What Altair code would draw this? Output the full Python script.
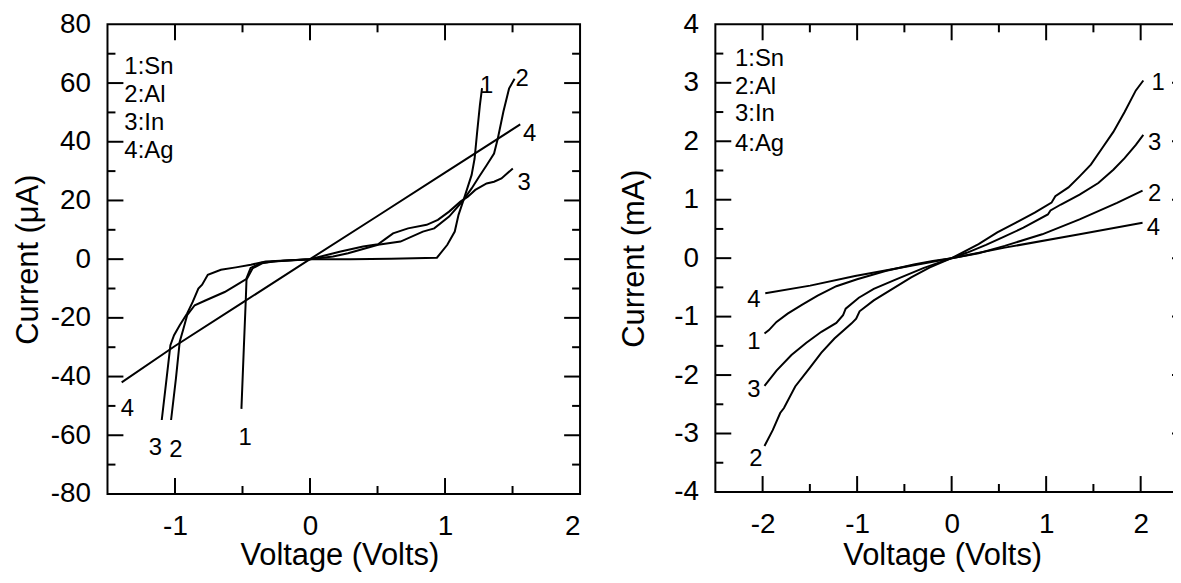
import altair as alt
import pandas as pd

# ---------------- Left panel: current in microamps ----------------
L_SN_V = [-0.508, -0.49, -0.475, -0.47, -0.44, -0.36, -0.2, 0.0, 0.3, 0.6, 0.94, 1.017, 1.072, 1.10, 1.141, 1.197, 1.219, 1.238, 1.258, 1.274]
L_SN_I = [-51.0, -30.0, -13.0, -6.5, -3.0, -1.2, -0.5, 0.0, 0.0, 0.1, 0.5, 4.9, 9.4, 15.1, 20.7, 28.7, 34.3, 43.4, 52.4, 58.3]

L_AL_V = [-1.029, -0.993, -0.965, -0.937, -0.910, -0.854, -0.771, -0.632, -0.549, -0.466, -0.425, -0.355, -0.272, 0.0, 0.171, 0.282, 0.504, 0.670, 0.836, 0.920, 1.03, 1.127, 1.197, 1.252, 1.308, 1.363, 1.391, 1.432, 1.474, 1.515]
L_AL_I = [-54.8, -40.6, -28.1, -23.6, -19.1, -15.7, -14.0, -11.2, -8.9, -6.6, -3.1, -1.4, -0.8, 0.0, 0.9, 2.0, 4.9, 6.0, 9.4, 10.5, 14.5, 19.6, 24.1, 28.1, 32.0, 36.0, 41.1, 50.2, 58.1, 61.5]

L_IN_V = [-1.098, -1.068, -1.034, -1.007, -0.965, -0.910, -0.868, -0.827, -0.799, -0.757, -0.660, -0.549, -0.438, -0.328, 0.0, 0.227, 0.393, 0.504, 0.559, 0.615, 0.726, 0.864, 0.947, 1.030, 1.114, 1.169, 1.224, 1.308, 1.363, 1.418, 1.502]
L_IN_I = [-54.8, -42.9, -29.3, -25.9, -22.5, -18.5, -14.5, -10.0, -8.7, -5.3, -3.6, -2.8, -1.9, -0.8, 0.0, 2.6, 4.3, 5.1, 6.9, 8.8, 10.5, 11.7, 13.4, 16.2, 19.6, 21.3, 23.6, 25.8, 26.4, 27.5, 30.9]

L_AG_V = [-1.395, -1.0, -0.5, 0.0, 0.5, 1.0, 1.557]
L_AG_I = [-42.0, -29.6, -14.8, 0.0, 14.7, 29.5, 45.9]

L_LABEL_TEXT = ["1", "2", "4", "3", "4", "3", "2", "1"]
L_LABEL_V = [1.308, 1.571, 1.626, 1.585, -1.353, -1.145, -0.993, -0.48]
L_LABEL_I = [59.0, 61.5, 42.8, 25.8, -51.0, -64.4, -65.0, -61.0]

LEGEND_TEXT = ["1:Sn", "2:Al", "3:In", "4:Ag"]
L_LEGEND_V = [-1.375, -1.375, -1.375, -1.375]
L_LEGEND_I = [65.4, 55.9, 46.4, 36.9]

L_XDOMAIN = [-1.5, 2.0]
L_YDOMAIN = [-80, 80]
L_XLABELS = [-1, 0, 1, 2]
L_YLABELS = [-80, -60, -40, -20, 0, 20, 40, 60, 80]
L_XMAJOR = [-1, 0, 1]
L_XMINOR = [-0.5, 0.5, 1.5]
L_YMAJOR = [-60, -40, -20, 0, 20, 40, 60]
L_YMINOR = [-70, -50, -30, -10, 10, 30, 50, 70]

# ---------------- Right panel: current in milliamps ----------------
R_SN_V = [-1.980, -1.933, -1.853, -1.735, -1.576, -1.418, -1.220, -1.0, -0.7, -0.4, -0.2, 0.0, 0.285, 0.483, 0.681, 0.879, 1.057, 1.097, 1.236, 1.354, 1.473, 1.592, 1.711, 1.830, 1.949, 2.028]
R_SN_I = [-1.29, -1.23, -1.09, -0.95, -0.79, -0.64, -0.48, -0.36, -0.22, -0.11, -0.05, 0.0, 0.24, 0.44, 0.61, 0.78, 0.95, 1.06, 1.21, 1.40, 1.60, 1.88, 2.16, 2.50, 2.87, 3.04]

R_AL_V = [-1.980, -1.893, -1.814, -1.774, -1.655, -1.497, -1.378, -1.240, -1.061, -1.010, -0.974, -0.824, -0.626, -0.428, -0.23, 0.0, 0.285, 0.562, 0.958, 1.354, 1.750, 2.020]
R_AL_I = [-3.215, -2.943, -2.649, -2.564, -2.195, -1.867, -1.617, -1.374, -1.119, -1.034, -0.909, -0.722, -0.524, -0.329, -0.159, 0.0, 0.085, 0.21, 0.408, 0.663, 0.946, 1.156]

R_IN_V = [-1.980, -1.853, -1.695, -1.537, -1.378, -1.220, -1.149, -1.121, -0.982, -0.824, -0.6, -0.3, 0.0, 0.166, 0.364, 0.562, 0.760, 1.018, 1.046, 1.156, 1.354, 1.552, 1.711, 1.830, 1.949, 2.028]
R_IN_I = [-2.184, -1.924, -1.657, -1.448, -1.26, -1.108, -0.977, -0.864, -0.677, -0.524, -0.37, -0.17, 0.0, 0.096, 0.227, 0.374, 0.521, 0.748, 0.816, 0.918, 1.088, 1.286, 1.513, 1.711, 1.938, 2.108]

R_AG_V = [-1.972, -1.497, -1.022, -0.5, 0.0, 0.562, 1.354, 2.020]
R_AG_I = [-0.60, -0.47, -0.306, -0.15, 0.0, 0.18, 0.41, 0.606]

R_LABEL_TEXT = ["1", "3", "2", "4", "4", "1", "3", "2"]
R_LABEL_V = [2.186, 2.147, 2.147, 2.135, -2.091, -2.091, -2.091, -2.071]
R_LABEL_I = [2.99, 1.966, 1.099, 0.52, -0.722, -1.43, -2.252, -3.442]

R_LEGEND_V = [-2.292, -2.292, -2.292, -2.292]
R_LEGEND_I = [3.407, 2.925, 2.47, 1.95]

R_XDOMAIN = [-2.5, 2.5]
R_YDOMAIN = [-4, 4]
R_XLABELS = [-2, -1, 0, 1, 2]
R_YLABELS = [-4, -3, -2, -1, 0, 1, 2, 3, 4]
R_XMAJOR = [-2, -1, 0, 1, 2]
R_XMINOR = [-1.5, -0.5, 0.5, 1.5]
R_YMAJOR = [-3, -2, -1, 0, 1, 2, 3]
R_YMINOR = [-3.5, -2.5, -1.5, -0.5, 0.5, 1.5, 2.5, 3.5]

FONT = "Liberation Sans"
LABEL_EXPR = "(datum.value < 0 ? '-' : '') + abs(datum.value)"


def curves_frame(series):
    rows = []
    for name, vs, cs in series:
        for k, (v, c) in enumerate(zip(vs, cs)):
            rows.append({"curve": name, "idx": k, "V": v, "I": c})
    return pd.DataFrame(rows)


def panel(series, lab_t, lab_v, lab_i, leg_v, leg_i, xdom, ydom, xlabels, ylabels,
          xmaj, xmin, ymaj, ymin, ytitle, W, H, xtitle_x, xtitle_y, ytitle_x):
    xs = alt.Scale(domain=xdom, nice=False, zero=False)
    ys = alt.Scale(domain=ydom, nice=False, zero=False)
    xa = alt.Axis(
        values=xlabels, labelExpr=LABEL_EXPR, title="Voltage (Volts)",
        ticks=False, tickSize=0, domain=False, grid=False,
        labelFontSize=28, labelPadding=19, labelColor="black", labelFont=FONT,
        titleFontSize=31, titleFontWeight="normal", titleColor="black", titleFont=FONT,
        titleX=xtitle_x, titleY=xtitle_y, titleBaseline="bottom", titleAlign="center")
    ya = alt.Axis(
        values=ylabels, labelExpr=LABEL_EXPR, title=ytitle,
        ticks=False, tickSize=0, domain=False, grid=False,
        labelFontSize=28, labelPadding=17, labelColor="black", labelFont=FONT,
        titleFontSize=31, titleFontWeight="normal", titleColor="black", titleFont=FONT,
        titleAngle=270, titleX=ytitle_x, titleY=H / 2, titleBaseline="alphabetic",
        titleAlign="center")
    df = curves_frame(series)

    lines = alt.Chart(df).mark_line(color="black", strokeWidth=2).encode(
        x=alt.X("V:Q", scale=xs, axis=xa, title="Voltage (Volts)"),
        y=alt.Y("I:Q", scale=ys, axis=ya, title=ytitle),
        detail="curve:N",
        order="idx:Q",
    )

    def xt(vals, length, top):
        d = pd.DataFrame({"t": vals})
        y0 = 0 if top else H
        y1 = length if top else H - length
        return alt.Chart(d).mark_rule(color="black", strokeWidth=2).encode(
            x=alt.X("t:Q", scale=xs, axis=xa, title="Voltage (Volts)"),
            y=alt.value(y0), y2=alt.value(y1))

    def yt(vals, length, right):
        d = pd.DataFrame({"t": vals})
        x0 = W if right else 0
        x1 = W - length if right else length
        return alt.Chart(d).mark_rule(color="black", strokeWidth=2).encode(
            y=alt.Y("t:Q", scale=ys, axis=ya, title=ytitle),
            x=alt.value(x0), x2=alt.value(x1))

    ticks = [xt(xmaj, 16, False), xt(xmin, 8, False), xt(xmaj, 16, True), xt(xmin, 8, True),
             yt(ymaj, 16, False), yt(ymin, 8, False), yt(ymaj, 16, True), yt(ymin, 8, True)]

    lab_df = pd.DataFrame({"t": lab_t, "V": lab_v, "I": lab_i})
    labels = alt.Chart(lab_df).mark_text(fontSize=24, font=FONT, color="black",
                                         align="center", baseline="middle").encode(
        x=alt.X("V:Q", scale=xs, axis=xa, title="Voltage (Volts)"),
        y=alt.Y("I:Q", scale=ys, axis=ya, title=ytitle), text="t:N")

    leg_df = pd.DataFrame({"t": LEGEND_TEXT, "V": leg_v, "I": leg_i})
    legend = alt.Chart(leg_df).mark_text(fontSize=24, font=FONT, color="black",
                                         align="left", baseline="middle").encode(
        x=alt.X("V:Q", scale=xs, axis=xa, title="Voltage (Volts)"),
        y=alt.Y("I:Q", scale=ys, axis=ya, title=ytitle), text="t:N")

    return alt.layer(lines, *ticks, labels, legend).properties(width=W, height=H)


left = panel(
    [("Sn", L_SN_V, L_SN_I), ("Al", L_AL_V, L_AL_I), ("In", L_IN_V, L_IN_I), ("Ag", L_AG_V, L_AG_I)],
    L_LABEL_TEXT, L_LABEL_V, L_LABEL_I, L_LEGEND_V, L_LEGEND_I,
    L_XDOMAIN, L_YDOMAIN, L_XLABELS, L_YLABELS, L_XMAJOR, L_XMINOR, L_YMAJOR, L_YMINOR,
    "Current (\u03bcA)", 475, 472, 233, 78, -70)

right = panel(
    [("Sn", R_SN_V, R_SN_I), ("Al", R_AL_V, R_AL_I), ("In", R_IN_V, R_IN_I), ("Ag", R_AG_V, R_AG_I)],
    R_LABEL_TEXT, R_LABEL_V, R_LABEL_I, R_LEGEND_V, R_LEGEND_I,
    R_XDOMAIN, R_YDOMAIN, R_XLABELS, R_YLABELS, R_XMAJOR, R_XMINOR, R_YMAJOR, R_YMINOR,
    "Current (mA)", 475, 470, 228, 80, -72)

chart = alt.hconcat(left, right, spacing=136, bounds="flush").properties(
    padding={"left": 4, "top": 0, "right": -17, "bottom": -1}
).configure(font=FONT).configure_view(stroke="black", strokeWidth=2)

chart.save("out.html", embed_options={"renderer": "svg", "actions": False})
